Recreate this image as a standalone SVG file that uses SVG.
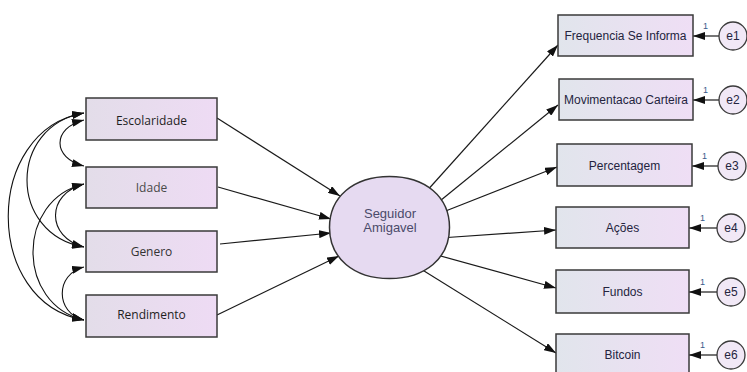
<svg xmlns="http://www.w3.org/2000/svg" width="747" height="372" viewBox="0 0 747 372">
<style>
.box{stroke:#3a3a3a;stroke-width:1.5}
.lbox{fill:url(#gl)}
.rbox{fill:url(#gr)}
.ltxt{font-family:"Open Sans","Noto Sans",sans-serif;font-size:12px;fill:#1e1e1e;text-anchor:middle}
.rtxt{font-family:"Liberation Sans",Arial,sans-serif;font-size:12px;fill:#24243e;text-anchor:middle}
.etxt{font-family:"Liberation Sans",Arial,sans-serif;font-size:12px;fill:#24243e;text-anchor:middle}
.one{font-family:"Liberation Sans",Arial,sans-serif;font-size:9px;fill:#3a5a8a}
.err{fill:#f1e8f6;stroke:#3a3a3a;stroke-width:1.3}
.arr{fill:none;stroke:#1a1a1a;stroke-width:1.2;marker-end:url(#ah)}
.cov{fill:none;stroke:#111;stroke-width:1.1;marker-start:url(#ah);marker-end:url(#ah)}
</style>
<defs>
<linearGradient id="gl" x1="0" y1="0" x2="1" y2="0">
<stop offset="0" stop-color="#e3dde9"/>
<stop offset="1" stop-color="#eedbf4"/>
</linearGradient>
<linearGradient id="gr" x1="0" y1="0" x2="1" y2="0">
<stop offset="0" stop-color="#e1e5ec"/>
<stop offset="1" stop-color="#efdef5"/>
</linearGradient>
<marker id="ah" viewBox="0 0 12 8" refX="12" refY="4" markerWidth="12" markerHeight="8" markerUnits="userSpaceOnUse" orient="auto-start-reverse">
<path d="M0,0 L12,4 L0,8 z" fill="#111"/>
</marker>
</defs>
<rect width="747" height="372" fill="#ffffff"/>
<g id="connectors">
<path class="arr" d="M217,118 L340,196"/>
<path class="arr" d="M218,187 L331,219"/>
<path class="arr" d="M220,244 L331,233"/>
<path class="arr" d="M217,315 L339,256"/>
<path class="arr" d="M425,193 L558,45"/>
<path class="arr" d="M435,205 L558,105"/>
<path class="arr" d="M438,214 L557,167"/>
<path class="arr" d="M440,238 L556,230"/>
<path class="arr" d="M428,252.5 L556,288"/>
<path class="arr" d="M408,261 L556,353"/>
<path class="arr" d="M719,36 L693,36"/>
<path class="arr" d="M719,100 L693,100"/>
<path class="arr" d="M718,166 L692,166"/>
<path class="arr" d="M717,228 L689,228"/>
<path class="arr" d="M717,292 L689,292"/>
<path class="arr" d="M717,355 L689,355"/>
<path class="cov" d="M84,120 C52,128 52,158 84,166"/>
<path class="cov" d="M84,184 C46,194 46,237 84,247"/>
<path class="cov" d="M84,267 C55,274 55,313 84,320"/>
<path class="cov" d="M84,184 C16,200 16,304 84,320"/>
<path class="cov" d="M84,113 C8,126 8,234 84,247"/>
<path class="cov" d="M84,113 C-17,130 -17,303 84,320"/>
</g>
<g id="n-escolaridade"><rect class="box lbox" x="86" y="98" width="131" height="42"/><text class="ltxt" x="151.5" y="125">Escolaridade</text></g>
<g id="n-idade"><rect class="box lbox" x="86" y="167" width="131" height="41"/><text class="ltxt" x="151.5" y="192" style="fill:#4a4a4a">Idade</text></g>
<g id="n-genero"><rect class="box lbox" x="86" y="231" width="131" height="41"/><text class="ltxt" x="151.5" y="256" style="fill:#333">Genero</text></g>
<g id="n-rendimento"><rect class="box lbox" x="86" y="295" width="131" height="42"/><text class="ltxt" x="151.5" y="319">Rendimento</text></g>
<g id="n-seguidor">
<path d="M449.5,227.5 C449.5,196.9 425.5,176.5 389.5,176.5 C353.5,176.5 329.5,196.9 329.5,227.5 C329.5,258.1 353.5,278.5 389.5,278.5 C425.5,278.5 449.5,258.1 449.5,227.5 Z" fill="#e6daf1" stroke="#333" stroke-width="1.5"/>
<text class="rtxt" x="390" y="218" style="font-size:13px;fill:#4a4a6a">Seguidor</text>
<text class="rtxt" x="390" y="232" style="font-size:13px;fill:#4a4a6a">Amigavel</text>
</g>
<g id="n-frequencia"><rect class="box rbox" x="558" y="15" width="135" height="41"/><text class="rtxt" x="625.5" y="40">Frequencia Se Informa</text></g>
<g id="n-movimentacao"><rect class="box rbox" x="559" y="79" width="134" height="41"/><text class="rtxt" x="626" y="104">Movimentacao Carteira</text></g>
<g id="n-percentagem"><rect class="box rbox" x="557" y="144" width="135" height="42"/><text class="rtxt" x="624.5" y="170">Percentagem</text></g>
<g id="n-acoes"><rect class="box rbox" x="556" y="207" width="133" height="41"/><text class="rtxt" x="622.5" y="232">Ações</text></g>
<g id="n-fundos"><rect class="box rbox" x="556" y="270" width="133" height="43"/><text class="rtxt" x="622.5" y="296">Fundos</text></g>
<g id="n-bitcoin"><rect class="box rbox" x="556" y="334" width="133" height="42"/><text class="rtxt" x="622.5" y="359">Bitcoin</text></g>
<g id="n-e1"><circle class="err" cx="733" cy="36" r="14"/><text class="etxt" x="733" y="40">e1</text><text class="one" x="703" y="29">1</text></g>
<g id="n-e2"><circle class="err" cx="733" cy="100" r="14"/><text class="etxt" x="733" y="104">e2</text><text class="one" x="703" y="93">1</text></g>
<g id="n-e3"><circle class="err" cx="732" cy="166" r="14"/><text class="etxt" x="732" y="170">e3</text><text class="one" x="702" y="159">1</text></g>
<g id="n-e4"><circle class="err" cx="731" cy="228" r="14"/><text class="etxt" x="731" y="232">e4</text><text class="one" x="700" y="221">1</text></g>
<g id="n-e5"><circle class="err" cx="731" cy="292" r="14"/><text class="etxt" x="731" y="296">e5</text><text class="one" x="700" y="285">1</text></g>
<g id="n-e6"><circle class="err" cx="731" cy="355" r="14"/><text class="etxt" x="731" y="359">e6</text><text class="one" x="700" y="348">1</text></g>
</svg>
